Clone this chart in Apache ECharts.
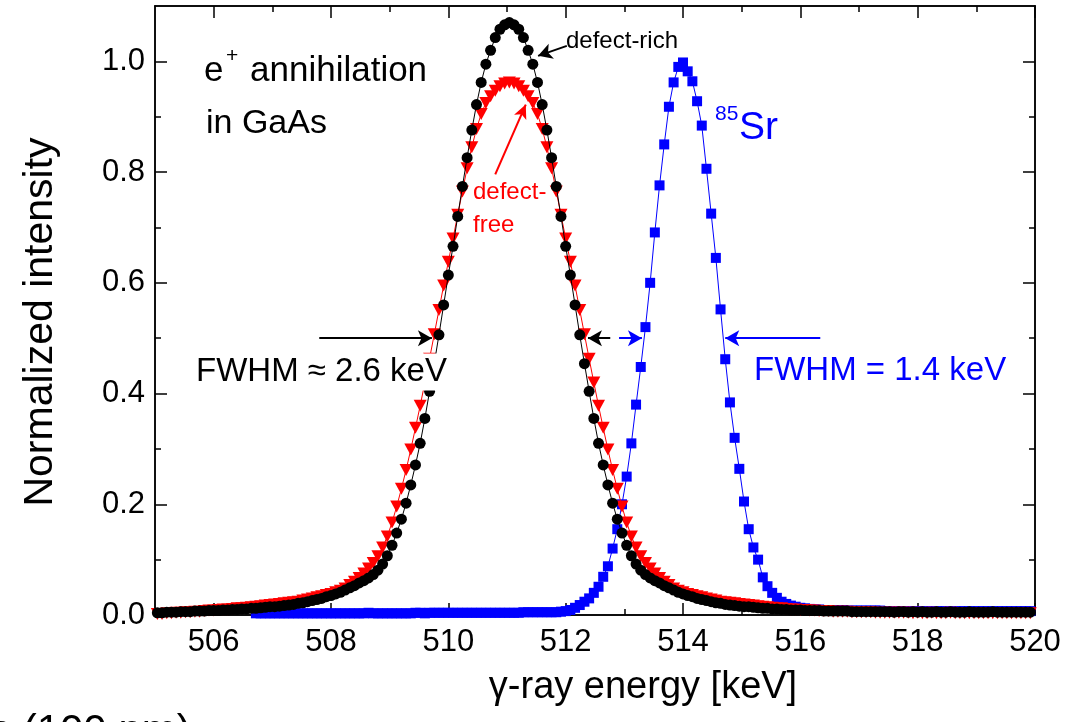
<!DOCTYPE html>
<html>
<head>
<meta charset="utf-8">
<script src="https://cdn.jsdelivr.net/npm/echarts@6/dist/echarts.min.js"></script>
<style>
html, body { margin: 0; padding: 0; background: #fff; }
#chart { width: 1077px; height: 722px; }
</style>
</head>
<body>
<div id="chart"></div>
<script>
// channel energies (keV)
var energy = [
	505.04, 505.12, 505.20, 505.28, 505.36, 505.44, 505.52, 505.60, 505.68, 505.76, 505.84, 505.92, 506.00, 506.08, 506.16, 506.24, 506.32, 506.40, 506.48, 506.56, 506.64, 506.72, 506.80, 506.88, 506.96,
	507.04, 507.12, 507.20, 507.28, 507.36, 507.44, 507.52, 507.60, 507.68, 507.76, 507.84, 507.92, 508.00, 508.08, 508.16, 508.24, 508.32, 508.40, 508.48, 508.56, 508.64, 508.72, 508.80, 508.88, 508.96,
	509.04, 509.12, 509.20, 509.28, 509.36, 509.44, 509.52, 509.60, 509.68, 509.76, 509.84, 509.92, 510.00, 510.08, 510.16, 510.24, 510.32, 510.40, 510.48, 510.56, 510.64, 510.72, 510.80, 510.88, 510.96,
	511.04, 511.12, 511.20, 511.28, 511.36, 511.44, 511.52, 511.60, 511.68, 511.76, 511.84, 511.92, 512.00, 512.08, 512.16, 512.24, 512.32, 512.40, 512.48, 512.56, 512.64, 512.72, 512.80, 512.88, 512.96,
	513.04, 513.12, 513.20, 513.28, 513.36, 513.44, 513.52, 513.60, 513.68, 513.76, 513.84, 513.92, 514.00, 514.08, 514.16, 514.24, 514.32, 514.40, 514.48, 514.56, 514.64, 514.72, 514.80, 514.88, 514.96,
	515.04, 515.12, 515.20, 515.28, 515.36, 515.44, 515.52, 515.60, 515.68, 515.76, 515.84, 515.92, 516.00, 516.08, 516.16, 516.24, 516.32, 516.40, 516.48, 516.56, 516.64, 516.72, 516.80, 516.88, 516.96,
	517.04, 517.12, 517.20, 517.28, 517.36, 517.44, 517.52, 517.60, 517.68, 517.76, 517.84, 517.92, 518.00, 518.08, 518.16, 518.24, 518.32, 518.40, 518.48, 518.56, 518.64, 518.72, 518.80, 518.88, 518.96,
	519.04, 519.12, 519.20, 519.28, 519.36, 519.44, 519.52, 519.60, 519.68, 519.76, 519.84, 519.92
];

// e+ annihilation, defect-rich GaAs
var defectRich = [
	0.004, 0.004, 0.005, 0.005, 0.005, 0.006, 0.006, 0.006, 0.007, 0.007,
	0.007, 0.008, 0.008, 0.008, 0.009, 0.009, 0.010, 0.010, 0.011, 0.011,
	0.012, 0.012, 0.013, 0.014, 0.015, 0.015, 0.016, 0.017, 0.018, 0.019,
	0.021, 0.022, 0.024, 0.026, 0.028, 0.030, 0.033, 0.035, 0.038, 0.041,
	0.045, 0.049, 0.053, 0.058, 0.062, 0.067, 0.073, 0.081, 0.092, 0.107,
	0.126, 0.148, 0.173, 0.202, 0.235, 0.271, 0.310, 0.355, 0.404, 0.454,
	0.506, 0.560, 0.614, 0.666, 0.720, 0.774, 0.826, 0.876, 0.922, 0.962,
	0.995, 1.020, 1.043, 1.058, 1.066,
	1.070,
	1.066, 1.058, 1.043, 1.020, 0.995, 0.962, 0.922, 0.876, 0.826, 0.774,
	0.720, 0.666, 0.614, 0.560, 0.506, 0.454, 0.404, 0.355, 0.310, 0.271,
	0.235, 0.202, 0.173, 0.148, 0.126, 0.107, 0.092, 0.081, 0.073, 0.067,
	0.062, 0.058, 0.053, 0.049, 0.045, 0.041, 0.038, 0.035, 0.033, 0.030,
	0.028, 0.026, 0.024, 0.022, 0.021, 0.019, 0.018, 0.017, 0.016, 0.015,
	0.015, 0.014, 0.013, 0.012, 0.012, 0.011, 0.011, 0.010, 0.010, 0.009,
	0.009, 0.009, 0.008, 0.008, 0.008, 0.008, 0.007, 0.007, 0.007, 0.007,
	0.007, 0.007, 0.006, 0.006, 0.006, 0.006, 0.006, 0.006, 0.006, 0.006,
	0.006, 0.005, 0.006, 0.006, 0.005, 0.006, 0.005, 0.006, 0.005, 0.005,
	0.006, 0.005, 0.005, 0.006, 0.005, 0.005, 0.005, 0.006, 0.005, 0.005,
	0.005, 0.005, 0.006, 0.005, 0.005, 0.005, 0.005, 0.005, 0.005, 0.005, 0.005
];

// e+ annihilation, defect-free GaAs
var defectFree = [
	0.002, 0.002, 0.003, 0.003, 0.004, 0.004, 0.005, 0.005, 0.006, 0.006,
	0.007, 0.008, 0.008, 0.009, 0.010, 0.010, 0.011, 0.012, 0.012, 0.013,
	0.014, 0.015, 0.016, 0.017, 0.018, 0.019, 0.020, 0.021, 0.022, 0.023,
	0.024, 0.026, 0.028, 0.030, 0.032, 0.034, 0.036, 0.038, 0.041, 0.044,
	0.048, 0.054, 0.060, 0.067, 0.075, 0.084, 0.094, 0.106, 0.122, 0.142,
	0.167, 0.196, 0.228, 0.262, 0.299, 0.338, 0.378, 0.420, 0.463, 0.507,
	0.551, 0.595, 0.638, 0.680, 0.723, 0.765, 0.807, 0.845, 0.878, 0.905,
	0.925, 0.937, 0.947, 0.955, 0.960,
	0.962,
	0.960, 0.955, 0.947, 0.937, 0.925, 0.905, 0.878, 0.845, 0.807, 0.765,
	0.723, 0.680, 0.638, 0.595, 0.551, 0.507, 0.463, 0.420, 0.378, 0.338,
	0.299, 0.262, 0.228, 0.196, 0.167, 0.142, 0.122, 0.106, 0.094, 0.084,
	0.075, 0.067, 0.060, 0.054, 0.048, 0.044, 0.041, 0.038, 0.036, 0.034,
	0.032, 0.030, 0.028, 0.026, 0.024, 0.023, 0.022, 0.021, 0.020, 0.019,
	0.018, 0.017, 0.016, 0.015, 0.014, 0.013, 0.012, 0.012, 0.011, 0.010,
	0.010, 0.009, 0.009, 0.008, 0.008, 0.007, 0.007, 0.007, 0.006, 0.006,
	0.006, 0.006, 0.005, 0.005, 0.005, 0.005, 0.005, 0.004, 0.004, 0.004,
	0.004, 0.004, 0.004, 0.004, 0.004, 0.003, 0.004, 0.003, 0.003, 0.004,
	0.003, 0.003, 0.003, 0.004, 0.003, 0.003, 0.003, 0.003, 0.003, 0.003,
	0.003, 0.003, 0.003, 0.003, 0.003, 0.003, 0.003, 0.003, 0.003, 0.003, 0.003
];

// 85Sr reference line
var sr85 = [
	null, null, null, null, null, null, null, null, null, null,
	null, null, null, null, null, null, null, null, null, null, null,
	0.003, 0.003, 0.003, 0.003, 0.003, 0.003, 0.003, 0.003, 0.003, 0.003,
	0.003, 0.003, 0.003, 0.003, 0.003, 0.003, 0.003, 0.003, 0.003, 0.003,
	0.003, 0.003, 0.003, 0.003, 0.004, 0.003, 0.003, 0.003, 0.003, 0.003,
	0.003, 0.003, 0.003, 0.003, 0.004, 0.004, 0.003, 0.004, 0.004, 0.004,
	0.004, 0.004, 0.004, 0.004, 0.004, 0.004, 0.004, 0.004, 0.004, 0.004,
	0.004, 0.004, 0.004, 0.004, 0.004, 0.004, 0.004, 0.005, 0.005, 0.005,
	0.005, 0.005, 0.005, 0.005, 0.005,
	0.006, 0.007, 0.009, 0.013, 0.018, 0.024, 0.030, 0.040, 0.051, 0.069,
	0.088, 0.120, 0.155, 0.200, 0.250, 0.310, 0.380, 0.448, 0.520, 0.600,
	0.691, 0.776, 0.850, 0.918, 0.962, 0.990, 0.998, 0.982, 0.964, 0.928,
	0.884, 0.806, 0.725, 0.645, 0.552, 0.462, 0.384, 0.320, 0.264, 0.205,
	0.155, 0.122, 0.100, 0.068, 0.052, 0.040, 0.031, 0.024, 0.020, 0.017,
	0.015, 0.013, 0.012, 0.011, 0.010,
	0.010, 0.009, 0.009, 0.009, 0.009, 0.009, 0.008, 0.008, 0.008, 0.008,
	0.008, 0.008, 0.008, 0.008, 0.007, 0.007, 0.007, 0.007, 0.007, 0.007,
	0.007, 0.007, 0.007, 0.007, 0.007, 0.007, 0.007, 0.007, 0.007, 0.007,
	0.007, 0.007, 0.007, 0.007, 0.007, 0.007, 0.007, 0.007, 0.007, 0.007,
	0.007, 0.007, 0.007, 0.007, 0.007, 0.007
];

var xMajor = [506, 508, 510, 512, 514, 516, 518, 520];
var xMinor = [507, 509, 511, 513, 515, 517, 519];
var yMajor = [0, 0.2, 0.4, 0.6, 0.8, 1.0];
var yMinor = [0.1, 0.3, 0.5, 0.7, 0.9];

var FONT = '"Liberation Sans", Arial, sans-serif';

function pairs(ys) {
	var out = [];
	ys.forEach(function (v, i) {
		if (v !== null) out.push([energy[i], v]);
	});
	return out;
}

function xAx(pos, ticks, len, labels) {
	return {
		type: 'value', position: pos, min: 505, max: 520,
		axisLine: { show: true, onZero: false, lineStyle: { color: '#000', width: 1.5 } },
		axisTick: { show: true, inside: true, length: len, customValues: ticks, lineStyle: { color: '#000', width: 1.5 } },
		axisLabel: labels ? { show: true, customValues: ticks, color: '#000', fontSize: 31, fontFamily: FONT, margin: 12 } : { show: false },
		splitLine: { show: false }
	};
}

function yAx(pos, ticks, len, labels) {
	return {
		type: 'value', position: pos, min: 0, max: 1.1,
		axisLine: { show: true, onZero: false, lineStyle: { color: '#000', width: 1.5 } },
		axisTick: { show: true, inside: true, length: len, customValues: ticks, lineStyle: { color: '#000', width: 1.5 } },
		axisLabel: labels ? {
			show: true, customValues: ticks, color: '#000', fontSize: 31, fontFamily: FONT, margin: 10,
			formatter: function (v) { return v.toFixed(1); }
		} : { show: false },
		splitLine: { show: false }
	};
}

function arrow(from, to, color) {
	return [
		{ coord: from, lineStyle: { color: color, width: 2, type: 'solid' } },
		{ coord: to }
	];
}

function label(text, x, y, size, color, extra) {
	var el = {
		type: 'text', x: x, y: y, z: 100,
		style: {
			text: text, font: size + 'px ' + FONT, fill: color,
			align: 'left', verticalAlign: 'middle', textAlign: 'left', textVerticalAlign: 'middle'
		}
	};
	if (extra) Object.assign(el.style, extra);
	return el;
}

var myChart = echarts.init(document.getElementById('chart'));
myChart.setOption({
	animation: false,
	backgroundColor: '#fff',
	grid: { left: 155, right: 42, top: 6, bottom: 107 },
	xAxis: [
		xAx('bottom', xMajor, 12, true),
		xAx('bottom', xMinor, 6, false),
		xAx('top', xMajor, 12, false),
		xAx('top', xMinor, 6, false)
	],
	yAxis: [
		yAx('left', yMajor, 12, true),
		yAx('left', yMinor, 6, false),
		yAx('right', yMajor, 12, false),
		yAx('right', yMinor, 6, false)
	],
	series: [
		{
			name: '85Sr', type: 'line', z: 2,
			data: pairs(sr85),
			symbol: 'rect', symbolSize: 10,
			itemStyle: { color: '#0000ff' },
			lineStyle: { color: '#0000ff', width: 1 },
			markLine: {
				silent: true, symbol: ['none', 'arrow'], symbolSize: [12, 14],
				label: { show: false },
				data: [
					arrow([512.91, 0.5], [513.30, 0.5], '#0000ff'),
					arrow([516.34, 0.5], [514.72, 0.5], '#0000ff')
				]
			}
		},
		{
			name: 'defect-free', type: 'line', z: 3,
			data: pairs(defectFree),
			symbol: 'triangle', symbolRotate: 180, symbolSize: [13, 12],
			itemStyle: { color: '#ff0000' },
			lineStyle: { color: '#ff0000', width: 1 },
			markLine: {
				silent: true, symbol: ['none', 'arrow'], symbolSize: [10, 14],
				label: { show: false },
				data: [
					arrow([510.80, 0.796], [511.32, 0.922], '#ff0000')
				]
			}
		},
		{
			name: 'defect-rich', type: 'line', z: 4,
			data: pairs(defectRich),
			symbol: 'circle', symbolSize: 11,
			itemStyle: { color: '#000' },
			lineStyle: { color: '#000', width: 1 },
			markLine: {
				silent: true, symbol: ['none', 'arrow'], symbolSize: [12, 14],
				label: { show: false },
				data: [
					arrow([507.8, 0.5], [509.72, 0.5], '#000'),
					arrow([512.76, 0.5], [512.38, 0.5], '#000'),
					arrow([512.02, 1.028], [511.53, 1.010], '#000')
				]
			}
		}
	],
	graphic: [
		label('e', 204, 71, 35, '#000'),
		label('+', 226, 56, 21, '#000'),
		label('annihilation', 250, 71, 35, '#000'),
		label('in GaAs', 206, 124, 34, '#000'),
		label('defect-rich', 566, 41, 24, '#000'),
		label('defect-', 473, 192, 24, '#ff0000'),
		label('free', 473, 225, 24, '#ff0000'),
		label('85', 715, 114, 21, '#0000ff'),
		label('Sr', 739, 128, 39, '#0000ff'),
		label('FWHM \u2248 2.6 keV', 194, 372, 33, '#000', { backgroundColor: '#fff', padding: [2, 2] }),
		label('FWHM = 1.4 keV', 754, 371, 33, '#0000ff'),
		label('s (100 nm)', -10, 732, 42, '#000'),
		{
			type: 'text', x: 643, y: 688, z: 100,
			style: {
				text: '\u03b3-ray energy [keV]', font: '38px ' + FONT, fill: '#000',
				align: 'center', verticalAlign: 'middle', textAlign: 'center', textVerticalAlign: 'middle'
			}
		},
		{
			type: 'text', x: 41, y: 322, z: 100, rotation: Math.PI / 2,
			style: {
				text: 'Normalized intensity', font: '41px ' + FONT, fill: '#000',
				align: 'center', verticalAlign: 'middle', textAlign: 'center', textVerticalAlign: 'middle'
			}
		}
	]
});
</script>
</body>
</html>
